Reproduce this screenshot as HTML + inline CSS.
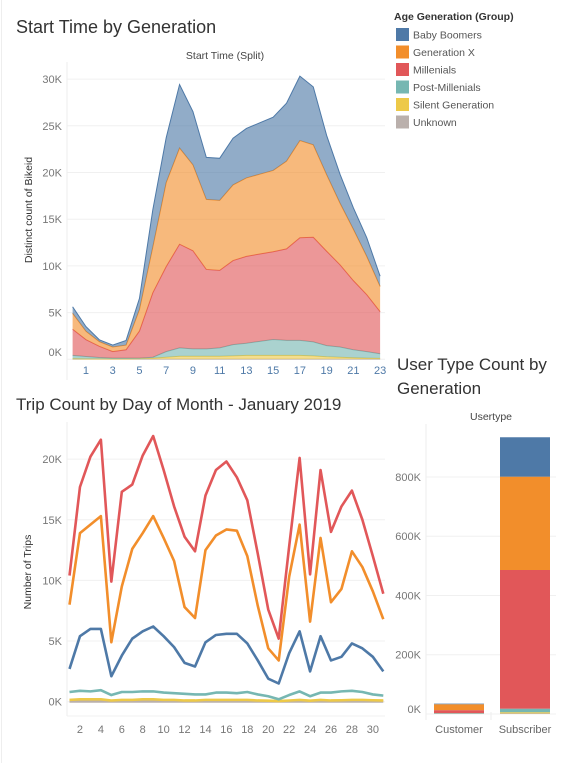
<!DOCTYPE html>
<html><head><meta charset="utf-8"><style>
body{margin:0;background:#fff;font-family:"Liberation Sans",sans-serif;}
svg text{font-family:"Liberation Sans",sans-serif;}
</style></head><body>
<svg id="s" width="585" height="763" viewBox="0 0 585 763" xmlns="http://www.w3.org/2000/svg">
<rect x="0" y="0" width="585" height="763" fill="#fff"/>
<line x1="1.5" y1="0" x2="1.5" y2="763" stroke="#eee"/>
<text x="16" y="33" font-size="18" fill="#333">Start Time by Generation</text>
<text x="225" y="59" font-size="10.5" fill="#444" text-anchor="middle">Start Time (Split)</text>
<text transform="translate(32,210) rotate(-90)" font-size="10.5" fill="#333" text-anchor="middle">Distinct count of Bikeid</text>
<text x="16" y="410" font-size="17" fill="#333">Trip Count by Day of Month - January 2019</text>
<text transform="translate(31,572) rotate(-90)" font-size="10.5" fill="#333" text-anchor="middle">Number of Trips</text>
<text x="397" y="370" font-size="17" fill="#333">User Type Count by</text>
<text x="397" y="394" font-size="17" fill="#333">Generation</text>
<text x="491" y="420" font-size="10.5" fill="#444" text-anchor="middle">Usertype</text>
<text x="394" y="20" font-size="10.5" font-weight="bold" fill="#333">Age Generation (Group)</text>
<g id="top"></g><g id="bot"></g><g id="bar"></g><g id="leg"></g>
</svg>
<script>
const NS="http://www.w3.org/2000/svg";
const seriesNames=["Baby Boomers","Generation X","Millenials","Post-Millenials","Silent Generation","Unknown"];
const colors=["#4e79a7","#f28e2b","#e15759","#76b7b2","#edc948","#bab0ac"];
// Top chart (thousands) by hour 0..23
const hours=[0,1,2,3,4,5,6,7,8,9,10,11,12,13,14,15,16,17,18,19,20,21,22,23];
const hourTicks=[1,3,5,7,9,11,13,15,17,19,21,23];
const topTicks=[0,5,10,15,20,25,30];
const hBoom=[0.7,0.5,0.2,0.2,0.5,1.2,4.0,4.8,6.8,5.7,4.5,4.5,5.0,5.3,5.5,5.7,6.2,6.9,6.2,4.2,3.1,2.3,2.0,1.1];
const hGenX=[1.7,0.9,0.5,0.5,0.5,2.3,4.9,9.0,10.3,9.2,7.5,7.5,8.1,8.4,8.55,8.7,9.4,10.4,9.9,8.2,6.6,5.5,4.1,2.7];
const hMill=[2.8,1.8,1.2,0.7,0.9,2.9,6.9,9.1,11.1,10.5,8.5,8.3,9.0,9.3,9.35,9.4,9.8,11.0,11.2,10.1,8.8,7.4,6.1,4.5];
const hPost=[0.35,0.25,0.15,0.08,0.08,0.05,0.1,0.6,0.9,0.8,0.8,0.9,1.2,1.3,1.5,1.7,1.6,1.6,1.5,1.2,1.1,0.85,0.7,0.5];
const hSilent=[0.05,0.03,0.02,0.02,0.02,0.05,0.1,0.2,0.3,0.3,0.3,0.3,0.35,0.4,0.4,0.4,0.4,0.4,0.35,0.25,0.2,0.15,0.1,0.08];
const hUnk=[0.02,0.02,0.02,0.02,0.02,0.02,0.02,0.02,0.02,0.02,0.02,0.02,0.02,0.02,0.02,0.02,0.02,0.02,0.02,0.02,0.02,0.02,0.02,0.02];
// Bottom chart (thousands) by day 1..31
const days=[1,2,3,4,5,6,7,8,9,10,11,12,13,14,15,16,17,18,19,20,21,22,23,24,25,26,27,28,29,30,31];
const dayTicks=[2,4,6,8,10,12,14,16,18,20,22,24,26,28,30];
const botTicks=[0,5,10,15,20];
const dMill=[10.4,17.7,20.2,21.6,9.9,17.3,17.9,20.3,21.9,19.1,16.1,13.6,12.4,17.0,19.1,19.8,18.5,16.6,12.2,7.6,5.2,12.8,20.1,10.5,19.1,14.0,16.1,17.4,15.0,12.0,8.9];
const dGenX=[8.0,13.9,14.6,15.3,4.9,9.5,12.6,13.9,15.3,13.5,11.6,7.8,6.9,12.5,13.7,14.2,14.1,12.0,7.9,4.4,3.4,10.3,14.6,6.6,13.5,8.2,9.3,12.4,11.1,9.1,6.8];
const dBoom=[2.7,5.4,6.0,6.0,2.1,3.8,5.2,5.8,6.2,5.4,4.5,3.2,2.9,4.9,5.5,5.6,5.6,4.8,3.4,1.9,1.5,4.0,5.8,2.5,5.4,3.4,3.7,4.8,4.4,3.7,2.5];
const dPost=[0.8,0.9,0.85,0.95,0.55,0.8,0.8,0.85,0.85,0.75,0.7,0.65,0.6,0.6,0.75,0.75,0.7,0.8,0.6,0.45,0.2,0.55,0.85,0.45,0.75,0.75,0.85,0.9,0.8,0.6,0.5];
const dSilent=[0.15,0.2,0.2,0.2,0.1,0.15,0.15,0.2,0.2,0.15,0.15,0.1,0.1,0.15,0.15,0.15,0.15,0.15,0.1,0.08,0.05,0.1,0.15,0.08,0.15,0.1,0.12,0.15,0.15,0.12,0.1];
const dUnk=[0.02,0.02,0.02,0.02,0.02,0.02,0.02,0.02,0.02,0.02,0.02,0.02,0.02,0.02,0.02,0.02,0.02,0.02,0.02,0.02,0.02,0.02,0.02,0.02,0.02,0.02,0.02,0.02,0.02,0.02,0.02];
// Bar chart (thousands)
const userTypes=["Customer","Subscriber"];
const barTicks=[0,200,400,600,800];
const bBoom=[2,133];
const bGenX=[20,315];
const bMill=[10,468];
const bPost=[2,12];
const bSilent=[0.5,4];
const bUnk=[0.5,2];

function el(tag,attrs,parent){const e=document.createElementNS(NS,tag);for(const k in attrs)e.setAttribute(k,attrs[k]);parent.appendChild(e);return e;}

// ---- top area chart
const gT=document.getElementById('top');
const tx=h=>72.6+h*13.37, ty=v=>359.3-v*9.34;
topTicks.forEach(t=>{
  const l=el('line',{x1:67,x2:385,y1:ty(t),y2:ty(t),stroke:'#f0f0f0'},gT);
  
  const tt=el('text',{x:62,y:Math.min(ty(t)+4,356),'font-size':11,fill:'#777','text-anchor':'end'},gT);tt.textContent=t+'K';
  
});
el('line',{x1:67,x2:67,y1:62,y2:380,stroke:'#eee'},gT);
hourTicks.forEach(h=>{const tt=el('text',{x:tx(h),y:374,'font-size':11,fill:'#4e79a7','text-anchor':'middle'},gT);tt.textContent=h;
  });
const hStack=[hUnk,hSilent,hPost,hMill,hGenX,hBoom], hIdx=[5,4,3,2,1,0];
let base=hours.map(()=>0);
hStack.forEach((s,k)=>{
  const top=base.map((b,i)=>b+s[i]);
  let d='M'+hours.map((h,i)=>tx(h)+','+ty(top[i])).join('L');
  for(let i=hours.length-1;i>=0;i--)d+='L'+tx(hours[i])+','+ty(base[i]);
  d+='Z';
  const p=el('path',{d:d,fill:colors[hIdx[k]],'fill-opacity':0.62},gT);
  
  
  const ln=el('polyline',{points:hours.map((h,i)=>tx(h)+','+ty(top[i])).join(' '),fill:'none',stroke:colors[hIdx[k]],'stroke-width':1},gT);
  
  base=top;
});

// ---- bottom line chart
const gB=document.getElementById('bot');
const bx=d=>69.5+(d-1)*10.46, by=v=>701.7-v*12.13;
botTicks.forEach(t=>{
  const l=el('line',{x1:67,x2:385,y1:by(t),y2:by(t),stroke:'#f0f0f0'},gB);
  
  const tt=el('text',{x:62,y:by(t)+4,'font-size':11,fill:'#777','text-anchor':'end'},gB);tt.textContent=t+'K';
  
});
el('line',{x1:67,x2:67,y1:422,y2:716,stroke:'#eee'},gB);
el('line',{x1:67,x2:385,y1:716,y2:716,stroke:'#f0f0f0'},gB);
dayTicks.forEach(d=>{const tt=el('text',{x:bx(d),y:733,'font-size':11,fill:'#777','text-anchor':'middle'},gB);tt.textContent=d;
  });
const dSeries=[dUnk,dSilent,dPost,dBoom,dGenX,dMill], dIdx=[5,4,3,0,1,2];
dSeries.forEach((s,k)=>{
  const ln=el('polyline',{points:days.map((d,i)=>bx(d)+','+by(s[i])).join(' '),fill:'none',stroke:colors[dIdx[k]],'stroke-width':2.6,'stroke-linejoin':'round'},gB);
  
  
});

// ---- bar chart
const gR=document.getElementById('bar');
const ry=v=>714-v*0.2963;
barTicks.forEach(t=>{
  const l=el('line',{x1:426,x2:556,y1:ry(t),y2:ry(t),stroke:'#f0f0f0'},gR);
  
  const tt=el('text',{x:421,y:Math.min(ry(t)+4,713),'font-size':11,fill:'#777','text-anchor':'end'},gR);tt.textContent=t+'K';
  
});
el('line',{x1:426,x2:426,y1:424,y2:720,stroke:'#eee'},gR);
el('line',{x1:491,x2:491,y1:712,y2:720,stroke:'#eee'},gR);
const barX=[434,500];
const bStack=[bUnk,bSilent,bPost,bMill,bGenX,bBoom], bIdx=[5,4,3,2,1,0];
userTypes.forEach((u,j)=>{
  let b=0;
  bStack.forEach((s,k)=>{
    const r=el('rect',{x:barX[j],width:50,y:ry(b+s[j]),height:ry(b)-ry(b+s[j]),fill:colors[bIdx[k]]},gR);
    
    
    b+=s[j];
  });
  const tt=el('text',{x:barX[j]+25,y:733,'font-size':11,fill:'#666','text-anchor':'middle'},gR);tt.textContent=u;
  
});

// ---- legend
const gL=document.getElementById('leg');
seriesNames.forEach((n,i)=>{
  const y=28+i*17.5;
  const r=el('rect',{x:396,y:y,width:13,height:13,fill:colors[i]},gL);
  
  const tt=el('text',{x:413,y:y+10.5,'font-size':10.5,fill:'#555'},gL);tt.textContent=n;
  
});
</script>
</body></html>
